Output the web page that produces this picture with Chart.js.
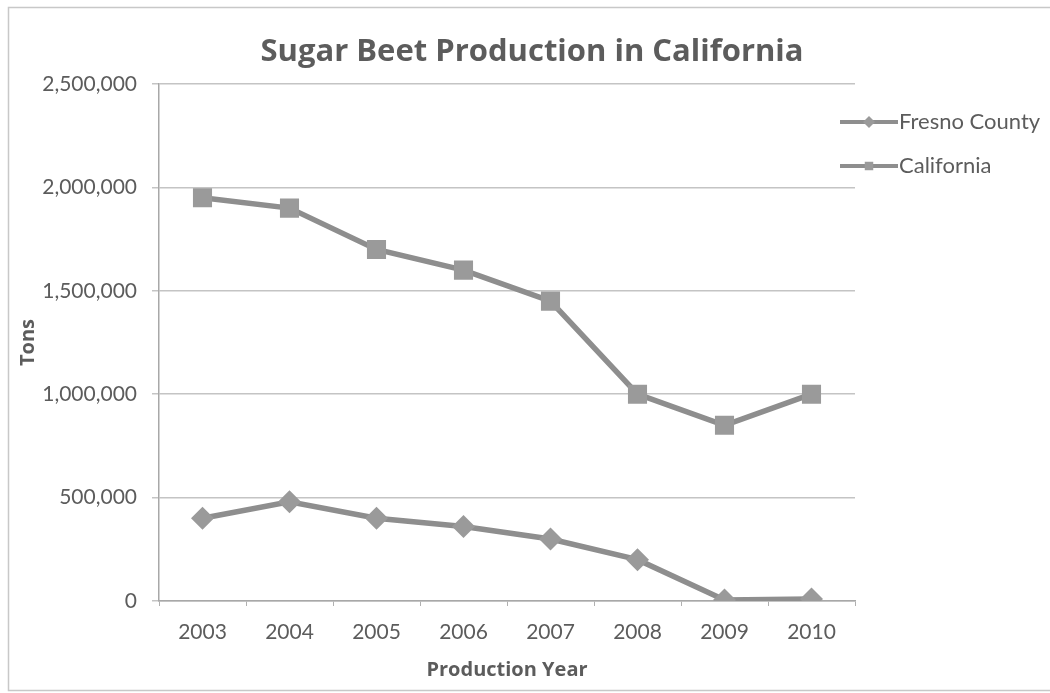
<!DOCTYPE html>
<html>
<head>
<meta charset="utf-8">
<script src="https://cdn.jsdelivr.net/npm/chart.js@4.4.1/dist/chart.umd.min.js"></script>
<style>
  html, body { margin: 0; padding: 0; background: #fff; }
  #chart { display: block; }
</style>
</head>
<body>
<canvas id="chart" width="1050" height="693"></canvas>
<script>
// data
const years = ['2003', '2004', '2005', '2006', '2007', '2008', '2009', '2010'];
const fresnoCounty = [400000, 480000, 400000, 360000, 300000, 200000, 5000, 10000];
const california = [1950000, 1900000, 1700000, 1600000, 1450000, 1000000, 850000, 1000000];
const yTicks = [0, 500000, 1000000, 1500000, 2000000, 2500000];

const chartTitle = 'Sugar Beet Production in California';
const textColor = '#5c5c5c';
const lineColor = '#8e8e8e';
const markColor = '#9a9a9a';
const fontFamily = 'Lato, "Open Sans", sans-serif';
const boldFamily = '"Open Sans", Lato, sans-serif';

// frame, title and legend drawn by hand, Excel style
const frameAndLegend = {
    id: 'frameAndLegend',
    afterDraw(chart) {
        const ctx = chart.ctx;
        ctx.save();
        ctx.strokeStyle = '#c8c8c8';
        ctx.lineWidth = 1.5;
        ctx.beginPath();
        ctx.moveTo(1050, 7.5);
        ctx.lineTo(8.5, 7.5);
        ctx.lineTo(8.5, 690.5);
        ctx.lineTo(1050, 690.5);
        ctx.stroke();

        // title is centred on the whole chart, not the plot area
        ctx.fillStyle = textColor;
        ctx.font = `bold 31px ${boldFamily}`;
        ctx.textAlign = 'center';
        ctx.textBaseline = 'middle';
        ctx.fillText(chartTitle, 532, 52);

        const entries = [
            {label: 'Fresno County', style: 'rectRot', y: 122},
            {label: 'California', style: 'rect', y: 166}
        ];
        entries.forEach(e => {
            ctx.strokeStyle = lineColor;
            ctx.lineWidth = 4;
            ctx.beginPath();
            ctx.moveTo(840, e.y);
            ctx.lineTo(898, e.y);
            ctx.stroke();
            ctx.fillStyle = markColor;
            Chart.helpers.drawPoint(ctx, {pointStyle: e.style, radius: 6, borderWidth: 0}, 869, e.y);
            ctx.fillStyle = textColor;
            ctx.font = `22px ${fontFamily}`;
            ctx.textBaseline = 'middle';
            ctx.textAlign = 'left';
            ctx.fillText(e.label, 899, e.y);
        });
        ctx.restore();
    }
};

new Chart(document.getElementById('chart'), {
    type: 'line',
    data: {
        labels: years,
        datasets: [
            {
                label: 'Fresno County',
                data: fresnoCounty,
                borderColor: lineColor,
                backgroundColor: markColor,
                borderWidth: 5.5,
                pointStyle: 'rectRot',
                pointRadius: 11.5,
                pointBorderWidth: 0,
                tension: 0
            },
            {
                label: 'California',
                data: california,
                borderColor: lineColor,
                backgroundColor: markColor,
                borderWidth: 5.5,
                pointStyle: 'rect',
                pointRadius: 13.5,
                pointBorderWidth: 0,
                tension: 0
            }
        ]
    },
    options: {
        responsive: false,
        animation: false,
        layout: {padding: {left: 0, right: 195, top: 84, bottom: 0}},
        plugins: {
            legend: {display: false},
            tooltip: {enabled: false},
            title: {display: false}
        },
        scales: {
            x: {
                offset: true,
                afterFit: scale => { scale.height = 92; },
                grid: {
                    offset: true,
                    drawOnChartArea: false,
                    drawTicks: true,
                    tickLength: 5,
                    color: '#b0b0b0'
                },
                border: {color: '#a8a8a8', width: 1.5},
                ticks: {
                    color: textColor,
                    font: {family: fontFamily, size: 21},
                    padding: 14,
                    maxRotation: 0
                },
                title: {
                    display: true,
                    text: 'Production Year',
                    color: textColor,
                    font: {family: boldFamily, size: 20, weight: 'bold'},
                    padding: {top: 0, bottom: 11}
                }
            },
            y: {
                min: 0,
                max: 2500000,
                afterFit: scale => { scale.width = 159; },
                afterBuildTicks: scale => { scale.ticks = yTicks.map(v => ({value: v})); },
                grid: {
                    color: '#c4c4c4',
                    lineWidth: 1.5,
                    drawTicks: true,
                    tickLength: 7
                },
                border: {color: '#a8a8a8', width: 1.5},
                ticks: {
                    color: textColor,
                    font: {family: fontFamily, size: 21},
                    padding: 15,
                    callback: v => v.toLocaleString('en-US')
                },
                title: {
                    display: true,
                    text: 'Tons',
                    color: textColor,
                    font: {family: boldFamily, size: 20, weight: 'bold'},
                    padding: {top: 16, bottom: 0}
                }
            }
        }
    },
    plugins: [frameAndLegend]
});
</script>
</body>
</html>
